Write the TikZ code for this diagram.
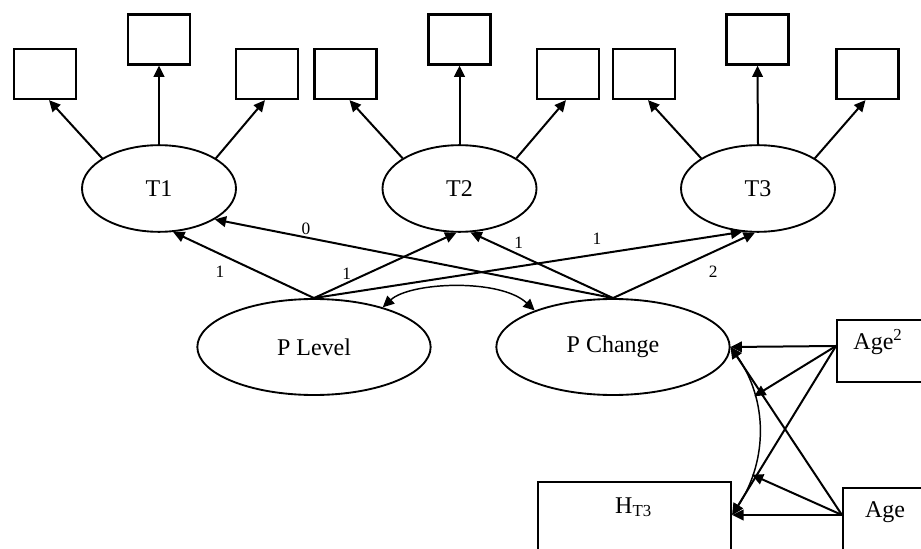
\documentclass[tikz,border=0pt]{standalone}
\usepackage{fontspec}
\setmainfont{Liberation Serif}
\usetikzlibrary{arrows.meta,shapes.geometric,calc}
\begin{document}
\begin{tikzpicture}[x=0.75pt,y=-0.75pt,
 every node/.style={font=\fontsize{18}{21}\selectfont},
 ind/.style={draw,line width=1.7pt,minimum width=46.5pt,minimum height=37.5pt,inner sep=0pt},
 lat/.style={draw,ellipse,line width=1.4pt,minimum width=115.5pt,minimum height=65pt,inner sep=0pt},
 plat/.style={draw,ellipse,line width=1.4pt,minimum width=175pt,minimum height=72pt,inner sep=0pt},
 obs/.style={draw,line width=1.7pt,anchor=north west,inner sep=0pt},
 arr/.style={line width=1.5pt,-{Triangle[length=8.5pt,width=8pt]}},
 darr/.style={line width=1.1pt,{Triangle[length=8.5pt,width=8pt]}-{Triangle[length=8.5pt,width=8pt]}},
 lab/.style={font=\fontsize{13}{15}\selectfont,inner sep=0pt}
]
\useasboundingbox (0,0) rectangle (921,549);

% latent trait factors
\node[lat] (t1) at (159,188.5) {T1};
\node[lat] (t2) at (459.5,188.5) {T2};
\node[lat] (t3) at (758,188.5) {T3};

% indicators
\node[ind] (b1l) at (45,74) {};
\node[ind] (b1c) at (159,39.5) {};
\node[ind] (b1r) at (267,74) {};
\node[ind] (b2l) at (345.5,74) {};
\node[ind] (b2c) at (459.5,39.5) {};
\node[ind] (b2r) at (568,74) {};
\node[ind] (b3l) at (644,74) {};
\node[ind] (b3c) at (757.5,39.5) {};
\node[ind] (b3r) at (867.5,74) {};

\draw[arr] (t1.152) -- ([xshift=3pt]b1l.south);
\draw[arr] (t1.north) -- (b1c.south);
\draw[arr] (t1.28) -- ([xshift=-1.5pt]b1r.south);
\draw[arr] (t2.152) -- ([xshift=3pt]b2l.south);
\draw[arr] (t2.north) -- (b2c.south);
\draw[arr] (t2.28) -- ([xshift=-1.5pt]b2r.south);
\draw[arr] (t3.152) -- ([xshift=3pt]b3l.south);
\draw[arr] (t3.north) -- (b3c.south);
\draw[arr] (t3.28) -- ([xshift=-1.5pt]b3r.south);

% growth factors
\node[plat] (pl) at (314,347) {P Level};
\node[plat] (pc) at (613,347) {P Change};

\draw[arr] (pl.north) -- node[lab,pos=0.667,yshift=-13.5pt] (l1) {1} (t1.-72);
\draw[arr] (pl.north) -- node[lab,pos=0.23,yshift=7.2pt] (l2) {1} (t2.-94);
\draw[arr] (pl.north) -- node[lab,pos=0.661,yshift=11.8pt] (l3) {1} (t3.-110);
\draw[arr] (pc.north) -- node[lab,pos=0.771,yshift=6.2pt] (l4) {0} (t1.-29);
\draw[arr] (pc.north) -- node[lab,pos=0.662,yshift=8.7pt] (l5) {1} (t2.-76);
\draw[arr] (pc.north) -- node[lab,pos=0.706,yshift=-14.5pt] (l6) {2} (t3.-94);

\draw[darr] (pl.30) .. controls (410,282) and (500,278) .. (pc.155);

% observed covariates
\node[obs,minimum width=78pt,minimum height=46.5pt] (age2) at (836,319) {};
\node[anchor=base] (age2t) at (878,349) {Age\textsuperscript{2}};
\node[obs,minimum width=75pt,minimum height=60pt] (age) at (842,487) {};
\node[anchor=base] (aget) at (885,517) {Age};
\node[obs,minimum width=144.75pt,minimum height=60pt] (ht) at (537,481) {};
\node[anchor=base] (htt) at (633.5,513) {H\textsubscript{T3}};

\coordinate (a2s) at ($(age2.north west)!0.42!(age2.south west)$);
\coordinate (as) at ($(age.north west)+(0,28)$);
\coordinate (hte) at ($(ht.north east)+(0,34)$);

\draw[darr] (pc.east) .. controls (768,400) and (768,460) .. (hte)
  coordinate[pos=0.3] (c1) coordinate[pos=0.76] (c2);

\draw[arr] (a2s) -- (pc.east);
\draw[arr] (a2s) -- (c1);
\draw[arr] (a2s) -- (hte);
\draw[arr] (as) -- (hte);
\draw[arr] (as) -- (c2);
\draw[arr] (as) -- (pc.east);
\end{tikzpicture}
\end{document}
